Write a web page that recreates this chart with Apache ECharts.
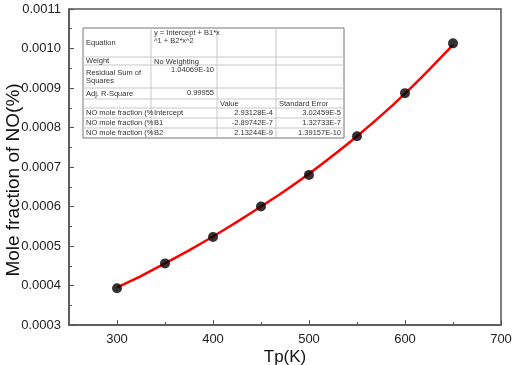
<!DOCTYPE html>
<html>
<head>
<meta charset="utf-8">
<script src="https://cdn.jsdelivr.net/npm/echarts@6/dist/echarts.min.js"></script>
<style>
  html, body { margin: 0; padding: 0; background: #fff; }
  #chart { width: 512px; height: 365px; }
</style>
</head>
<body>
<div id="chart"></div>
<script>
// measured points
const tpValues = [300, 350, 400, 450, 500, 550, 600, 650];
const noFraction = [0.000393, 0.000456, 0.000523, 0.000600, 0.000680, 0.000778, 0.000887, 0.001013];
// red fit curve
const fitTp = [300, 325, 350, 375, 400, 425, 450, 475, 500, 525, 550, 575, 600, 625, 650];
const fitValues = [0.000395, 0.000424, 0.000456, 0.000489, 0.000524, 0.000561, 0.000600, 0.000640,
  0.000683, 0.000729, 0.000778, 0.000830, 0.000886, 0.000946, 0.001009];

// axis ticks
const xMajorTicks = [300, 400, 500, 600, 700];
const xMinorTicks = [350, 450, 550, 650];

// fit result table (rows of 4 cells)
const tableRows = [
  ["Equation", "y = Intercept + B1*x\n^1 + B2*x^2", "", ""],
  ["Weight", "No Weighting", "", ""],
  ["Residual Sum of\nSquares", "1.04069E-10", "", ""],
  ["Adj. R-Square", "0.99955", "", ""],
  ["", "", "Value", "Standard Error"],
  ["NO mole fraction (%", "Intercept", "2.93128E-4", "3.02459E-5"],
  ["NO mole fraction (%", "B1", "-2.89742E-7", "1.32733E-7"],
  ["NO mole fraction (%", "B2", "2.13244E-9", "1.39157E-10"]
];

const colX = [83, 151, 217, 276, 344];
const rowY = [28, 57, 65, 88, 99, 108, 118, 128, 138];

function isNum(s) {
  return /^-?[0-9.]+E/.test(s) || /^[0-9.]+$/.test(s);
}

function buildTable() {
  const els = [];
  els.push({
    type: 'rect',
    shape: { x: colX[0], y: rowY[0], width: colX[4] - colX[0], height: rowY[8] - rowY[0] },
    style: { fill: '#fff', stroke: '#777', lineWidth: 1 },
    z: 10
  });
  for (let i = 1; i < rowY.length - 1; i++) {
    els.push({
      type: 'line',
      shape: { x1: colX[0], y1: rowY[i], x2: colX[4], y2: rowY[i] },
      style: { stroke: '#c8c8c8', lineWidth: 1 },
      z: 11
    });
  }
  for (let j = 1; j < colX.length - 1; j++) {
    els.push({
      type: 'line',
      shape: { x1: colX[j], y1: rowY[0], x2: colX[j], y2: rowY[8] },
      style: { stroke: '#c8c8c8', lineWidth: 1 },
      z: 11
    });
  }
  tableRows.forEach((row, r) => {
    row.forEach((txt, c) => {
      if (!txt) return;
      const right = isNum(txt);
      // first column is vertically centred, others top aligned
      let y;
      if (c === 0) y = (rowY[r] + rowY[r + 1]) / 2;
      else y = rowY[r] + 1;
      els.push({
        type: 'text',
        x: right ? colX[c + 1] - 3 : colX[c] + 3,
        y: y,
        style: {
          text: txt,
          fill: '#333',
          font: '7.5px "Liberation Sans", Arial, sans-serif',
          textAlign: right ? 'right' : 'left',
          textVerticalAlign: c === 0 ? 'middle' : 'top',
          lineHeight: 8
        },
        z: 12
      });
    });
  });
  return els;
}

const chart = echarts.init(document.getElementById('chart'));
const axisColor = '#555';
const fontFam = '"Liberation Sans", Arial, sans-serif';
const labelFont = { color: '#222', fontSize: 13, fontFamily: fontFam };

const option = {
  animation: false,
  grid: {
    left: 69, right: 11, top: 9, bottom: 40,
    containLabel: false,
    outerBoundsMode: 'none',
    show: true, borderColor: axisColor, borderWidth: 1.5, backgroundColor: '#fff'
  },
  xAxis: [
    {
      type: 'value',
      min: 250, max: 700, interval: 50,
      name: 'Tp(K)',
      nameLocation: 'middle',
      nameGap: 24,
      nameMoveOverlap: false,
      nameTextStyle: { color: '#111', fontSize: 17, fontFamily: fontFam },
      axisLine: { show: true, lineStyle: { color: axisColor, width: 1.5 } },
      axisTick: { show: true, inside: true, length: 5, customValues: xMajorTicks, lineStyle: { color: axisColor } },
      axisLabel: Object.assign({ margin: 8, customValues: xMajorTicks }, labelFont),
      splitLine: { show: false }
    },
    {
      type: 'value',
      min: 250, max: 700, interval: 50,
      position: 'bottom',
      axisLine: { show: false },
      axisTick: { show: true, inside: true, length: 3, customValues: xMinorTicks, lineStyle: { color: axisColor } },
      axisLabel: { show: false },
      splitLine: { show: false }
    }
  ],
  yAxis: {
    type: 'value',
    min: 0.0003, max: 0.0011, interval: 0.0001,
    name: 'Mole fraction of NO(%)',
    nameLocation: 'middle',
    nameGap: 46,
    nameMoveOverlap: false,
    nameTextStyle: { color: '#111', fontSize: 19, fontFamily: fontFam, padding: [0, 26, 0, 0] },
    axisLine: { show: true, lineStyle: { color: axisColor, width: 1.5 } },
    axisTick: { show: true, inside: true, length: 5, lineStyle: { color: axisColor } },
    minorTick: { show: true, splitNumber: 2, length: 3, lineStyle: { color: axisColor } },
    axisLabel: Object.assign({ margin: 8, formatter: v => v.toFixed(4) }, labelFont),
    splitLine: { show: false }
  },
  graphic: buildTable(),
  series: [
    {
      type: 'line',
      data: fitTp.map((x, i) => [x, fitValues[i]]),
      smooth: 0.2,
      showSymbol: false,
      lineStyle: { color: '#ff0000', width: 2.5 },
      z: 2
    },
    {
      type: 'scatter',
      data: tpValues.map((x, i) => [x, noFraction[i]]),
      symbol: 'circle',
      symbolSize: 10,
      itemStyle: { color: '#000' },
      z: 3
    }
  ]
};

chart.setOption(option);
</script>
</body>
</html>
